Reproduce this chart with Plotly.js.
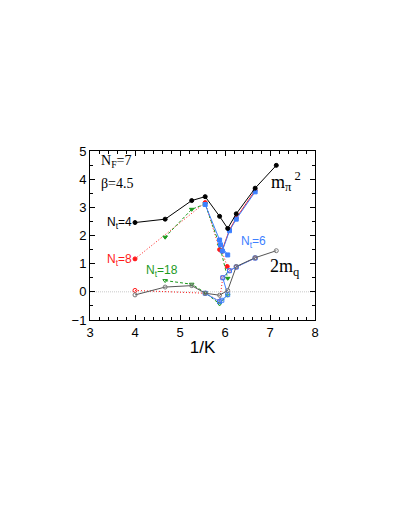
<!DOCTYPE html>
<html>
<head>
<meta charset="utf-8">
<script src="https://cdn.plot.ly/plotly-3.0.1.min.js"></script>
<style>
  body { margin: 0; background: #fff; }
  #chart { width: 409px; height: 529px; }
</style>
</head>
<body>
<div id="chart"></div>
<script>
// Nt=4
const k4 = [4.0, 4.67, 5.26, 5.56, 5.88, 6.06, 6.25, 6.67, 7.14];
const mpi4 = [2.46, 2.58, 3.24, 3.38, 2.68, 2.25, 2.77, 3.68, 4.49];
const mq4 = [-0.11, 0.17, 0.22, -0.05, -0.12, 0.05, 0.90, 1.21, 1.46];

// Nt=6
const k6 = [5.56, 5.88, 5.90, 6.06, 5.94, 6.10, 6.25, 6.67];
const mpi6 = [3.10, 1.84, 1.67, 1.31, 1.45, 2.17, 2.58, 3.55];
const k6q = [5.56, 5.88, 5.93, 6.06, 5.95, 6.10, 6.25, 6.67];
const mq6 = [-0.05, -0.35, -0.30, -0.10, 0.50, 0.75, 0.88, 1.20];

// Nt=8
const k8 = [4.0, 5.56, 5.88, 5.93, 6.05];
const mpi8 = [1.17, 3.17, 1.50, 1.45, 0.90];
const k8up = [5.93, 6.10, 6.25, 6.67];
const mpi8up = [1.45, 2.20, 2.62, 3.60];
const k8q = [4.0, 5.56, 5.88, 5.95, 6.10, 6.25, 6.67];
const mq8 = [0.05, -0.05, -0.33, 0.50, 0.75, 0.88, 1.20];

// Nt=18
const k18 = [4.67, 5.26, 5.56, 5.88, 6.06];
const mpi18 = [1.94, 2.93, 3.12, 1.65, 0.48];
const mq18 = [0.40, 0.27, -0.03, -0.43, -0.12];

const black = '#000000';
const red = '#ff1a1a';
const blue = '#3d80ff';
const green = '#1e9a1e';

function tr(x, y, color, dash, symbol, lineColor) {
  return {
    x: x, y: y, type: 'scatter', mode: 'lines+markers',
    line: { color: lineColor || color, width: 1, dash: dash },
    marker: { color: color, size: 4, symbol: symbol, line: { color: color, width: 1 } },
    showlegend: false, hoverinfo: 'skip'
  };
}

const data = [
  // y=0 reference
  { x: [3, 8], y: [0, 0], type: 'scatter', mode: 'lines',
    line: { color: '#c8c8c8', width: 1, dash: '1px,1px' }, showlegend: false, hoverinfo: 'skip' },
  tr(k8, mpi8, red, '1px,2px', 'circle'),
  tr(k8up, mpi8up, red, 'solid', 'circle'),
  tr(k8q, mq8, red, '1px,2px', 'circle-open'),
  tr(k18, mpi18, green, '3px,2px', 'triangle-down'),
  tr(k18, mq18, green, '3px,2px', 'triangle-down-open'),
  tr(k6, mpi6, blue, 'solid', 'square'),
  tr(k6q, mq6, blue, 'solid', 'square-open'),
  tr(k4, mpi4, black, 'solid', 'circle'),
  tr(k4, mq4, '#777777', 'solid', 'circle-open', '#555555')
];

const sans = 'Liberation Sans, Arial, sans-serif';
const serif = 'Liberation Serif, Times New Roman, serif';

const annotations = [
  { x: 3.2, y: 4.62, text: 'N<sub>F</sub>=7', font: { family: serif, size: 14, color: '#000' } },
  { x: 3.2, y: 3.85, text: '\u03b2=4.5', font: { family: serif, size: 14, color: '#000' } },
  { x: 3.97, y: 2.46, text: 'N<sub>t</sub>=4', font: { family: sans, size: 12, color: '#000' }, xanchor: 'right' },
  { x: 3.97, y: 1.12, text: 'N<sub>t</sub>=8', font: { family: sans, size: 12, color: red }, xanchor: 'right' },
  { x: 4.2, y: 0.73, text: 'N<sub>t</sub>=18', font: { family: sans, size: 12, color: green } },
  { x: 6.3, y: 1.78, text: 'N<sub>t</sub>=6', font: { family: sans, size: 12, color: blue } },
  { x: 6.97, y: 3.9, text: 'm<sub>\u03c0</sub><sup> 2</sup>', font: { family: serif, size: 18, color: '#000' } },
  { x: 6.95, y: 0.85, text: '2m<sub>q</sub>', font: { family: serif, size: 18, color: '#000' } }
].map(a => Object.assign({ xref: 'x', yref: 'y', xanchor: 'left', showarrow: false }, a));

const layout = {
  width: 409, height: 529,
  margin: { l: 90, r: 94, t: 151, b: 209 },
  paper_bgcolor: '#fff', plot_bgcolor: '#fff',
  font: { family: sans, size: 13, color: '#000' },
  xaxis: {
    range: [3, 8], dtick: 1, tick0: 3,
    ticks: 'inside', ticklen: 5, tickwidth: 1, tickcolor: '#000',
    minor: { dtick: 0.2, ticks: 'inside', ticklen: 3, tickcolor: '#000' },
    showline: true, linecolor: '#000', linewidth: 1, mirror: 'ticks',
    showgrid: false, zeroline: false,
    tickfont: { family: sans, size: 13 },
    title: { text: '1/K', font: { family: sans, size: 17 }, standoff: 2 }
  },
  yaxis: {
    range: [-1, 5], dtick: 1,
    ticks: 'inside', ticklen: 5, tickwidth: 1, tickcolor: '#000',
    minor: { dtick: 0.5, ticks: 'inside', ticklen: 3, tickcolor: '#000' },
    showline: true, linecolor: '#000', linewidth: 1, mirror: 'ticks',
    showgrid: false, zeroline: false,
    tickfont: { family: sans, size: 13 }
  },
  annotations: annotations
};

Plotly.newPlot('chart', data, layout, { staticPlot: true });
</script>
</body>
</html>
